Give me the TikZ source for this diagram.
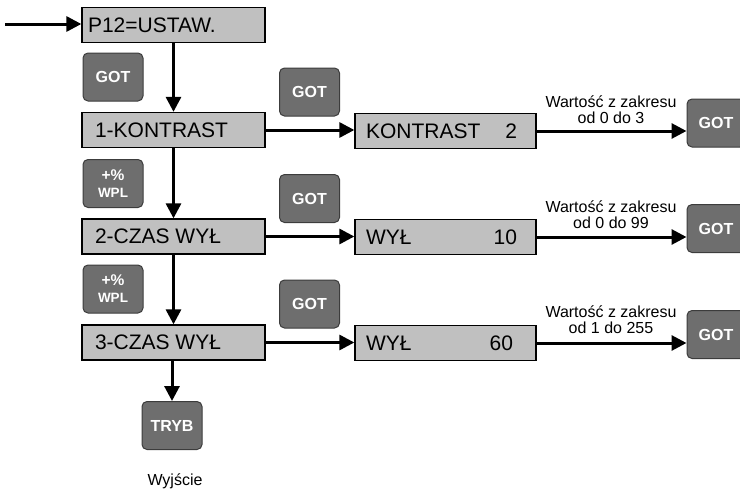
\documentclass[tikz,border=0pt]{standalone}
\usepackage{fontspec}
\setmainfont{Liberation Sans}
\usetikzlibrary{arrows.meta}
\definecolor{boxgray}{HTML}{C0C0C0}
\definecolor{btngray}{HTML}{6E6E6E}
\definecolor{btnedge}{HTML}{3C3C3C}
\begin{document}
\begin{tikzpicture}[x=1pt,y=-1pt,
  menubox/.style={draw=black,line width=1.3pt,fill=boxgray,minimum width=183pt,minimum height=35pt,inner sep=0pt,font=\fontsize{21}{24}\selectfont},
  valbox/.style={menubox,minimum width=181pt},
  btn/.style={draw=btnedge,line width=1pt,fill=btngray,rounded corners=5pt,minimum width=60pt,minimum height=48pt,inner sep=0pt,text=white,font=\fontsize{16}{17}\selectfont\bfseries,align=center},
  btnsmall/.style={btn,font=\fontsize{13.5}{17}\selectfont\bfseries},
  flow/.style={line width=3pt,-{Triangle[length=15pt,width=15pt]}},
  lbl/.style={font=\fontsize{16}{16}\selectfont,align=center,inner sep=0pt}]
\useasboundingbox (0,0) rectangle (740,490);
\clip (0,0) rectangle (740,490);

% left column
\coordinate (in) at (5,24);
\node[menubox] (p12) at (173.5,25) {\makebox[171pt][l]{P12=USTAW.}};
\node[menubox] (m1) at (173.5,130) {\makebox[157pt][l]{1-KONTRAST}};
\node[menubox] (m2) at (173.5,236.5) {\makebox[157pt][l]{2-CZAS WYŁ}};
\node[menubox] (m3) at (173.5,342.5) {\makebox[157pt][l]{3-CZAS WYŁ}};

\node[btn] (g1) at (113,77) {GOT};
\node[btnsmall] (w1) at (113,183.5) {{\fontsize{15.5}{17}\selectfont +\%}\\WPL};
\node[btnsmall] (w2) at (113,289) {{\fontsize{15.5}{17}\selectfont +\%}\\WPL};
\node[btn] (tryb) at (172,425.5) {TRYB};
\node[lbl] (out) at (175,481) {Wyjście};

% middle buttons
\node[btn] (g2) at (309.5,92) {GOT};
\node[btn] (g3) at (309.5,198.5) {GOT};
\node[btn] (g4) at (309.5,304) {GOT};

% value boxes
\node[valbox] (v1) at (445.5,131) {\makebox[159pt][l]{KONTRAST\hfill 2\hspace{8pt}}};
\node[valbox] (v2) at (445.5,237) {\makebox[159pt][l]{WYŁ\hfill 10\hspace{8pt}}};
\node[valbox] (v3) at (445.5,343) {\makebox[159pt][l]{WYŁ\hfill 60\hspace{12pt}}};

% right buttons
\node[btn,minimum width=58pt] (r1) at (716,123) {GOT};
\node[btn,minimum width=58pt] (r2) at (716,228.5) {GOT};
\node[btn,minimum width=58pt] (r3) at (716,334.5) {GOT};

% labels
\node[lbl] (t1) at (611,110) {Wartość z zakresu\\od 0 do 3};
\node[lbl] (t2) at (611,215) {Wartość z zakresu\\od 0 do 99};
\node[lbl] (t3) at (611,320) {Wartość z zakresu\\od 1 do 255};

% connectors
\draw[flow] (in) -- (p12.west |- in);
\draw[flow] (p12.south) -- (m1.north);
\draw[flow] (m1.south) -- (m2.north);
\draw[flow] (m2.south) -- (m3.north);
\draw[flow] ([xshift=-1.5pt]m3.south) -- (tryb.north);

\draw[flow] (m1.east) -- (v1.west |- m1.east);
\draw[flow] (m2.east) -- (v2.west |- m2.east);
\draw[flow] (m3.east) -- (v3.west |- m3.east);

\draw[flow] (v1.east) -- (r1.west |- v1.east);
\draw[flow] (v2.east) -- (r2.west |- v2.east);
\draw[flow] (v3.east) -- (r3.west |- v3.east);
\end{tikzpicture}
\end{document}
